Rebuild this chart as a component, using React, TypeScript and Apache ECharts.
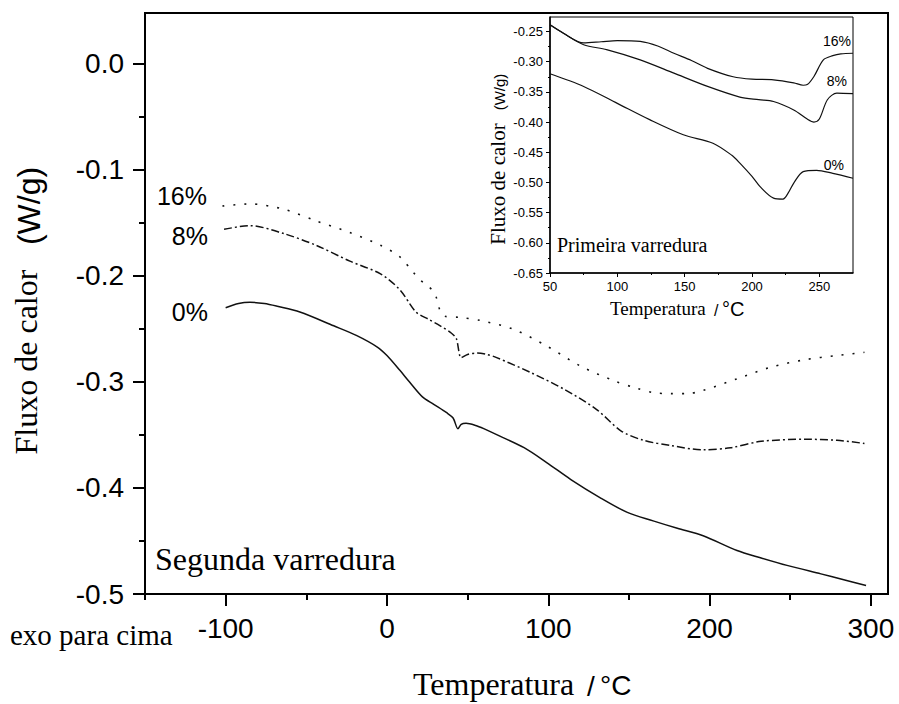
import React, { useEffect, useRef } from "react";
import * as echarts from "echarts";

// ---- Main chart (Segunda varredura) ----
const mainT16 = [-102, -85, -64, -44, -23, -4, 8, 16, 20, 25, 29, 31, 33, 36, 45, 58, 78, 99, 120, 141, 155, 165, 176, 186, 196, 217, 238, 259, 279, 296];
const mainV16 = [-0.134, -0.132, -0.137, -0.148, -0.159, -0.171, -0.182, -0.196, -0.203, -0.209, -0.215, -0.222, -0.233, -0.238, -0.239, -0.242, -0.25, -0.266, -0.285, -0.299, -0.306, -0.31, -0.311, -0.311, -0.308, -0.297, -0.286, -0.279, -0.275, -0.272];

const mainT8 = [-101, -85, -64, -44, -23, -4, 8, 18, 26, 33, 40, 43, 46, 50, 56, 62, 68, 89, 110, 130, 145, 159, 176, 196, 213, 232, 259, 279, 296];
const mainV8 = [-0.156, -0.1525, -0.16, -0.171, -0.186, -0.198, -0.213, -0.234, -0.241, -0.247, -0.254, -0.259, -0.277, -0.274, -0.2726, -0.274, -0.277, -0.291, -0.307, -0.326, -0.346, -0.355, -0.36, -0.364, -0.362, -0.356, -0.354, -0.355, -0.358];

const mainT0 = [-100, -92, -85, -76, -68, -54, -33, -19, -6, 0, 8, 14, 22, 29, 37, 41, 44, 46, 49, 55, 60, 70, 85, 99, 114, 132, 149, 165, 180, 196, 217, 232, 248, 269, 282, 297];
const mainV0 = [-0.23, -0.226, -0.2248, -0.226, -0.2286, -0.234, -0.247, -0.256, -0.267, -0.275, -0.289, -0.3, -0.314, -0.321, -0.329, -0.334, -0.344, -0.34, -0.339, -0.341, -0.344, -0.351, -0.362, -0.376, -0.392, -0.409, -0.423, -0.431, -0.438, -0.445, -0.459, -0.466, -0.473, -0.481, -0.486, -0.492];

const mainXTicks = [-100, 0, 100, 200, 300];
const mainXMinor = [-150, -50, 50, 150, 250];
const mainYTicks = [-0.5, -0.4, -0.3, -0.2, -0.1, 0.0];
const mainYMinor = [-0.45, -0.35, -0.25, -0.15, -0.05];

// ---- Inset (Primeira varredura) ----
const insetT16 = [50, 60, 75, 88, 100, 117, 130, 142, 155, 167, 186, 200, 216, 231, 238, 241, 246, 253, 260, 266, 275];
const insetV16 = [-0.239, -0.253, -0.269, -0.267, -0.265, -0.2665, -0.274, -0.286, -0.298, -0.311, -0.325, -0.329, -0.33, -0.335, -0.339, -0.338, -0.3245, -0.297, -0.29, -0.287, -0.286];

const insetT8 = [50, 60, 75, 92, 117, 142, 167, 191, 205, 216, 231, 241, 246, 250, 256, 263, 275];
const insetV8 = [-0.239, -0.253, -0.272, -0.28, -0.297, -0.319, -0.341, -0.3586, -0.363, -0.366, -0.38, -0.395, -0.4, -0.395, -0.363, -0.352, -0.353];

const insetT0 = [50, 75, 100, 124, 149, 171, 185, 191, 200, 206, 216, 223, 227, 231, 238, 248, 260, 275];
const insetV0 = [-0.32, -0.341, -0.369, -0.396, -0.421, -0.435, -0.455, -0.468, -0.49, -0.507, -0.526, -0.5275, -0.517, -0.501, -0.482, -0.48, -0.485, -0.493];

const insetXTicks = [50, 100, 150, 200, 250];
const insetXMinor = [75, 125, 175, 225];
const insetYTicks = [-0.65, -0.6, -0.55, -0.5, -0.45, -0.4, -0.35, -0.3, -0.25];
const insetYMinor = [-0.625, -0.575, -0.525, -0.475, -0.425, -0.375, -0.325, -0.275];

const seriesNames = ["16%", "8%", "0%"];

const SANS = "Liberation Sans";
const SERIF = "Liberation Serif";
const INK = "#111";

const pairs = (t: number[], v: number[]) => t.map((x, i) => [x, v[i]]);

function txt(text: string, x: number, y: number, size: number, family: string, align = "left", rotation = 0) {
  return {
    type: "text",
    x,
    y,
    rotation,
    z: 50,
    style: {
      text,
      fontSize: size,
      fontFamily: family,
      fill: "#000",
      textAlign: align,
      align,
      textVerticalAlign: "middle",
      verticalAlign: "middle",
    },
  };
}

export default function App() {
  const ref = useRef<HTMLDivElement>(null);
  useEffect(() => {
    document.body.style.margin = "0";
    const chart = echarts.init(ref.current!, null, { renderer: "svg" });
    const axisLineMain = { show: true, onZero: false, lineStyle: { color: "#000", width: 2 } };
    const axisLineInset = { show: true, onZero: false, lineStyle: { color: "#000", width: 1.5 } };
    const noLine = { show: false, onZero: false };
    const mainX = { min: -150, max: 310.6 };
    const mainY = { min: -0.5, max: 0.0481 };
    const insetX = { min: 50, max: 275 };
    const insetY = { min: -0.65, max: -0.226 };

    const option: any = {
      animation: false,
      backgroundColor: "#fff",
      grid: [
        { left: 145, top: 13, width: 743, height: 581, show: true, borderColor: "#000", borderWidth: 2, backgroundColor: "transparent" },
        { left: 550, top: 17, width: 303, height: 256, show: true, borderColor: "#000", borderWidth: 1, backgroundColor: "#fff", z: 5 },
      ],
      xAxis: [
        {
          gridIndex: 0, type: "value", position: "bottom", ...mainX,
          axisLine: axisLineMain,
          axisTick: { show: true, customValues: mainXTicks, length: 12, lineStyle: { color: "#000", width: 2 } },
          axisLabel: { show: true, customValues: mainXTicks, margin: 20, fontSize: 28, fontFamily: SANS, color: "#000", formatter: (v: number) => String(Math.round(v)) },
          splitLine: { show: false },
        },
        {
          gridIndex: 0, type: "value", position: "bottom", ...mainX,
          axisLine: noLine,
          axisTick: { show: true, customValues: mainXMinor, length: 6, lineStyle: { color: "#000", width: 2 } },
          axisLabel: { show: false },
          splitLine: { show: false },
        },
        {
          gridIndex: 1, type: "value", position: "bottom", ...insetX, z: 6,
          axisLine: axisLineInset,
          axisTick: { show: true, customValues: insetXTicks, length: 4, lineStyle: { color: "#000", width: 1 } },
          axisLabel: { show: true, customValues: insetXTicks, margin: 7, fontSize: 13, fontFamily: SANS, color: "#000", formatter: (v: number) => String(Math.round(v)) },
          splitLine: { show: false },
        },
        {
          gridIndex: 1, type: "value", position: "bottom", ...insetX, z: 6,
          axisLine: noLine,
          axisTick: { show: true, customValues: insetXMinor, length: 2, lineStyle: { color: "#000", width: 1 } },
          axisLabel: { show: false },
          splitLine: { show: false },
        },
      ],
      yAxis: [
        {
          gridIndex: 0, type: "value", position: "left", ...mainY,
          axisLine: axisLineMain,
          axisTick: { show: true, customValues: mainYTicks, length: 12, lineStyle: { color: "#000", width: 2 } },
          axisLabel: { show: true, customValues: mainYTicks, margin: 21, fontSize: 28, fontFamily: SANS, color: "#000", formatter: (v: number) => v.toFixed(1) },
          splitLine: { show: false },
        },
        {
          gridIndex: 0, type: "value", position: "left", ...mainY,
          axisLine: noLine,
          axisTick: { show: true, customValues: mainYMinor, length: 6, lineStyle: { color: "#000", width: 2 } },
          axisLabel: { show: false },
          splitLine: { show: false },
        },
        {
          gridIndex: 1, type: "value", position: "left", ...insetY, z: 6,
          axisLine: axisLineInset,
          axisTick: { show: true, customValues: insetYTicks, length: 4, lineStyle: { color: "#000", width: 1 } },
          axisLabel: { show: true, customValues: insetYTicks, margin: 7, fontSize: 13, fontFamily: SANS, color: "#000", formatter: (v: number) => v.toFixed(2) },
          splitLine: { show: false },
        },
        {
          gridIndex: 1, type: "value", position: "left", ...insetY, z: 6,
          axisLine: noLine,
          axisTick: { show: true, customValues: insetYMinor, length: 2, lineStyle: { color: "#000", width: 1 } },
          axisLabel: { show: false },
          splitLine: { show: false },
        },
      ],
      series: [
        { name: seriesNames[0], type: "line", xAxisIndex: 0, yAxisIndex: 0, data: pairs(mainT16, mainV16), showSymbol: false, symbol: "none", smooth: 0.3, lineStyle: { color: INK, width: 1.6, type: [2, 9] } },
        { name: seriesNames[1], type: "line", xAxisIndex: 0, yAxisIndex: 0, data: pairs(mainT8, mainV8), showSymbol: false, symbol: "none", smooth: 0.3, lineStyle: { color: INK, width: 1.5, type: [8, 3, 2, 3] } },
        { name: seriesNames[2], type: "line", xAxisIndex: 0, yAxisIndex: 0, data: pairs(mainT0, mainV0), showSymbol: false, symbol: "none", smooth: 0.3, lineStyle: { color: INK, width: 1.5 } },
        { name: "i" + seriesNames[0], type: "line", xAxisIndex: 2, yAxisIndex: 2, z: 7, data: pairs(insetT16, insetV16), showSymbol: false, symbol: "none", smooth: 0.3, lineStyle: { color: INK, width: 1.2 } },
        { name: "i" + seriesNames[1], type: "line", xAxisIndex: 2, yAxisIndex: 2, z: 7, data: pairs(insetT8, insetV8), showSymbol: false, symbol: "none", smooth: 0.3, lineStyle: { color: INK, width: 1.2 } },
        { name: "i" + seriesNames[2], type: "line", xAxisIndex: 2, yAxisIndex: 2, z: 7, data: pairs(insetT0, insetV0), showSymbol: false, symbol: "none", smooth: 0.3, lineStyle: { color: INK, width: 1.2 } },
      ],
      graphic: [
        // main y title
        txt("(W/g)", 29, 206, 32, SANS, "center", Math.PI / 2),
        txt("Fluxo de calor", 26, 362, 32, SERIF, "center", Math.PI / 2),
        // main x title
        txt("Temperatura", 413, 684, 32, SERIF, "left"),
        txt("/", 587, 686, 28, SANS, "left"),
        txt("°C", 600, 685, 28, SANS, "left"),
        txt("exo para cima", 10, 635, 29, SERIF, "left"),
        txt("Segunda varredura", 155, 559, 32, SERIF, "left"),
        // main curve labels
        txt(seriesNames[0], 207, 196, 25, SANS, "right"),
        txt(seriesNames[1], 208, 236, 25, SANS, "right"),
        txt(seriesNames[2], 208, 312, 25, SANS, "right"),
        // inset titles
        txt("(W/g)", 499, 92, 15, SANS, "center", Math.PI / 2),
        txt("Fluxo de calor", 498, 184, 21, SERIF, "center", Math.PI / 2),
        txt("Temperatura", 610, 308, 19, SERIF, "left"),
        txt("/", 714, 310, 16, SANS, "left"),
        txt("°C", 722, 309, 20, SANS, "left"),
        txt("Primeira varredura", 557, 245, 20, SERIF, "left"),
        txt(seriesNames[0], 851, 41, 14, SANS, "right"),
        txt(seriesNames[1], 847, 81, 14, SANS, "right"),
        txt(seriesNames[2], 844, 165, 14, SANS, "right"),
      ],
    };
    chart.setOption(option);
    return () => chart.dispose();
  }, []);
  return <div ref={ref} style={{ width: 899, height: 704 }} />;
}
